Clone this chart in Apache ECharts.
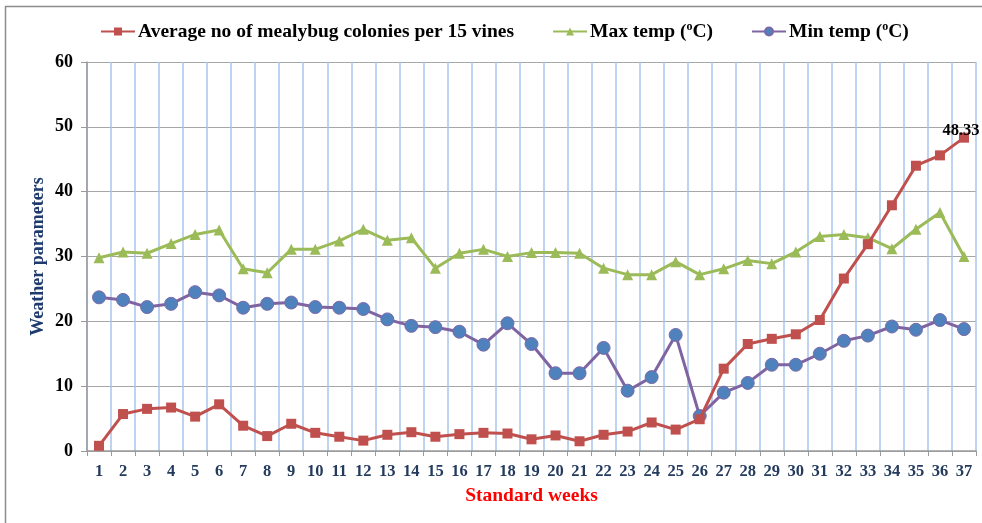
<!DOCTYPE html>
<html>
<head>
<meta charset="utf-8">
<script src="https://cdn.jsdelivr.net/npm/echarts@6/dist/echarts.min.js"></script>
<style>
html,body{margin:0;padding:0;background:#fff;}
#chart{width:982px;height:523px;}
</style>
</head>
<body>
<div id="chart"></div>
<script>
const weeks = ['1','2','3','4','5','6','7','8','9','10','11','12','13','14','15','16','17','18','19','20','21','22','23','24','25','26','27','28','29','30','31','32','33','34','35','36','37'];
const mealybug = [0.8,5.7,6.5,6.7,5.3,7.2,3.9,2.3,4.2,2.8,2.2,1.6,2.5,2.9,2.2,2.6,2.8,2.7,1.8,2.4,1.5,2.5,3.0,4.4,3.3,4.9,12.7,16.5,17.3,18.0,20.2,26.6,31.9,37.9,44.0,45.6,48.33];
const maxTemp = [29.8,30.7,30.5,32.0,33.4,34.1,28.1,27.5,31.1,31.1,32.4,34.2,32.5,32.9,28.2,30.5,31.1,30.0,30.6,30.6,30.5,28.2,27.2,27.2,29.2,27.2,28.1,29.4,28.9,30.7,33.1,33.4,32.9,31.2,34.2,36.8,30.0];
const minTemp = [23.7,23.3,22.2,22.7,24.5,24.0,22.1,22.7,22.9,22.2,22.1,21.9,20.3,19.3,19.1,18.4,16.4,19.7,16.5,12.0,12.0,15.9,9.3,11.4,17.9,5.4,9.0,10.5,13.3,13.3,15.0,17.0,17.8,19.2,18.7,20.2,18.8];
const yTicks = [0,10,20,30,40,50,60];

const serif = '"Liberation Serif","Times New Roman",serif';
const chart = echarts.init(document.getElementById('chart'));
const legendRich = {
  a:{fontFamily:serif,fontWeight:'bold',fontSize:19.5,color:'#000'},
  s:{fontFamily:serif,fontWeight:'bold',fontSize:12,color:'#000',verticalAlign:'top',padding:[0,0,9,0]}
};
chart.setOption({
  animation:false,
  backgroundColor:'#fff',
  graphic:[{type:'rect',shape:{x:5.5,y:6.5,width:1100,height:700},style:{fill:'none',stroke:'#8c8c8c',lineWidth:1.5},silent:true,z:-10}],
  legend:{
    top:16,left:95,itemGap:38,itemWidth:34,itemHeight:10,
    data:['Average no of mealybug colonies per 15 vines','Max temp (oC)','Min temp (oC)'],
    formatter:function(n){
      if(n.indexOf('(oC)')>=0){return '{a|'+n.replace(' (oC)',' (')+'}{s|o}{a|C)}';}
      return '{a|'+n+'}';
    },
    textStyle:{rich:legendRich,padding:[0,0,0,-2]}
  },
  grid:{left:87,right:6,top:62,bottom:72,containLabel:false},
  xAxis:{
    type:'category',data:weeks,boundaryGap:true,
    name:'Standard weeks',nameLocation:'middle',nameGap:35,nameMoveOverlap:false,
    nameTextStyle:{color:'#ff0000',fontFamily:serif,fontWeight:'bold',fontSize:19.5},
    axisLine:{lineStyle:{color:'#9a9a9a',width:1.5}},
    axisTick:{show:true,length:5,lineStyle:{color:'#9a9a9a'},alignWithLabel:false},
    axisLabel:{color:'#243b5e',fontFamily:serif,fontWeight:'bold',fontSize:16.5,margin:12,interval:0},
    splitLine:{show:true,lineStyle:{color:'#a9c3ec',width:1.5}}
  },
  yAxis:{
    type:'value',min:0,max:60,interval:10,
    name:'Weather parameters',nameLocation:'middle',nameGap:40,nameMoveOverlap:false,
    nameTextStyle:{color:'#1f3b6e',fontFamily:serif,fontWeight:'bold',fontSize:18},
    axisLine:{show:true,lineStyle:{color:'#9a9a9a',width:1.5}},
    axisTick:{show:true,length:6,lineStyle:{color:'#9a9a9a'}},
    axisLabel:{color:'#000',fontFamily:serif,fontWeight:'bold',fontSize:18,margin:14,
      formatter:function(v){return yTicks.indexOf(v)>=0?String(v):'';}},
    splitLine:{show:true,lineStyle:{color:'#a6a6a6',width:1.2}}
  },
  series:[
    {name:'Average no of mealybug colonies per 15 vines',type:'line',data:mealybug,
      symbol:'rect',symbolSize:10,lineStyle:{color:'#c0504d',width:3},
      itemStyle:{color:'#c0504d'},z:3,
      label:{show:true,position:'top',distance:-7,offset:[-3,0],fontFamily:serif,fontWeight:'bold',fontSize:16.5,color:'#000',
        formatter:function(p){return p.dataIndex===mealybug.length-1?mealybug[p.dataIndex].toFixed(2):'';}}},
    {name:'Max temp (oC)',type:'line',data:maxTemp,
      symbol:'triangle',symbolSize:11,lineStyle:{color:'#9bbb59',width:3},
      itemStyle:{color:'#9bbb59'},z:2},
    {name:'Min temp (oC)',type:'line',data:minTemp,
      symbol:'circle',symbolSize:13,lineStyle:{color:'#8064a2',width:3},
      itemStyle:{color:'#4f81bd',borderColor:'#7a6aa8',borderWidth:1},z:2}
  ]
});
</script>
</body>
</html>
